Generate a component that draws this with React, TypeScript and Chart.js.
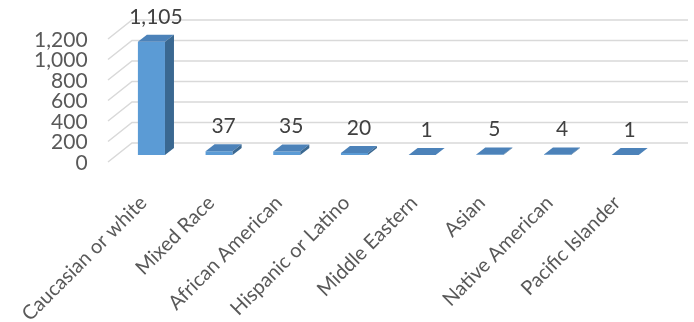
import React, { useEffect, useRef } from "react";
import { Chart, registerables } from "chart.js";

Chart.register(...registerables);

const categories = [
  "Caucasian or white",
  "Mixed Race",
  "African American",
  "Hispanic or Latino",
  "Middle Eastern",
  "Asian",
  "Native American",
  "Pacific Islander",
];
const counts = [1105, 37, 35, 20, 1, 5, 4, 1];
const yTickValues = [0, 200, 400, 600, 800, 1000, 1200];

const FONT = "Lato, 'Open Sans', sans-serif";
const FRONT = "#5B9BD5";
const TOP = "#4C82B9";
const SIDE = "#3A6891";
const GRID = "#D9D9D9";

const threeD = {
  id: "threeD",
  beforeDatasetsDraw(chart: any) {
    const { ctx, chartArea } = chart;
    const y = chart.scales.y;
    const backDx = 14.4, backDy = -12;
    const frontDx = -9.6, frontDy = 7;
    ctx.save();
    ctx.strokeStyle = GRID;
    ctx.lineWidth = 1.5;
    for (const v of yTickValues) {
      const py = y.getPixelForValue(v);
      ctx.beginPath();
      ctx.moveTo(chartArea.left + frontDx, py + frontDy);
      ctx.lineTo(chartArea.left + backDx, py + backDy);
      ctx.lineTo(chartArea.right + 29, py + backDy);
      ctx.stroke();
    }
    ctx.restore();
  },
  afterDatasetsDraw(chart: any) {
    const { ctx } = chart;
    const meta = chart.getDatasetMeta(0);
    const dx = 9, dy = -7;
    ctx.save();
    meta.data.forEach((bar: any, i: number) => {
      const { x, y, base, width } = bar.getProps(["x", "y", "base", "width"], true);
      const l = x - width / 2;
      const r = x + width / 2;
      ctx.fillStyle = TOP;
      ctx.beginPath();
      ctx.moveTo(l, y);
      ctx.lineTo(r, y);
      ctx.lineTo(r + dx, y + dy);
      ctx.lineTo(l + dx, y + dy);
      ctx.closePath();
      ctx.fill();
      ctx.fillStyle = SIDE;
      ctx.beginPath();
      ctx.moveTo(r, y);
      ctx.lineTo(r + dx, y + dy);
      ctx.lineTo(r + dx, base + dy);
      ctx.lineTo(r, base);
      ctx.closePath();
      ctx.fill();
      ctx.fillStyle = "#404040";
      ctx.font = `21px ${FONT}`;
      ctx.textAlign = "center";
      ctx.textBaseline = "middle";
      ctx.fillText(counts[i].toLocaleString("en-US"), x + dx / 2, y - 25);
    });
    ctx.restore();
  },
};

export default function App() {
  const ref = useRef<HTMLCanvasElement>(null);
  useEffect(() => {
    const chart = new Chart(ref.current as HTMLCanvasElement, {
      type: "bar",
      data: {
        labels: categories,
        datasets: [
          {
            data: counts,
            backgroundColor: FRONT,
            borderWidth: 0,
            barPercentage: 0.4,
            categoryPercentage: 1,
          },
        ],
      },
      plugins: [threeD],
      options: {
        responsive: false,
        animation: false,
        layout: { padding: { top: 32, right: 35, left: 0, bottom: 0 } },
        plugins: { legend: { display: false }, tooltip: { enabled: false } },
        scales: {
          x: {
            grid: { display: false, drawTicks: false },
            border: { display: false },
            ticks: {
              autoSkip: false,
              minRotation: 45,
              maxRotation: 45,
              color: "#595959",
              font: { family: FONT, size: 20 },
              padding: 36,
              labelOffset: -8,
            },
            afterFit(scale: any) {
              scale.height = 167;
              scale.paddingLeft = 0;
              scale.paddingRight = 0;
            },
          },
          y: {
            min: 0,
            max: 1200,
            grid: { display: false, drawTicks: false },
            border: { display: false },
            afterBuildTicks(scale: any) {
              scale.ticks = yTickValues.map((v) => ({ value: v }));
            },
            ticks: {
              autoSkip: false,
              color: "#595959",
              font: { family: FONT, size: 21 },
              padding: 30,
              labelOffset: 8,
              callback: (v: any) => Number(v).toLocaleString("en-US"),
            },
            afterFit(scale: any) {
              scale.width = 117.6;
              scale.paddingTop = 0;
              scale.paddingBottom = 0;
            },
          },
        },
      },
    });
    return () => chart.destroy();
  }, []);
  return (
    <div style={{ position: "fixed", left: 0, top: 0, width: 694, height: 322, background: "#fff" }}>
      <canvas ref={ref} width={694} height={322} />
    </div>
  );
}
